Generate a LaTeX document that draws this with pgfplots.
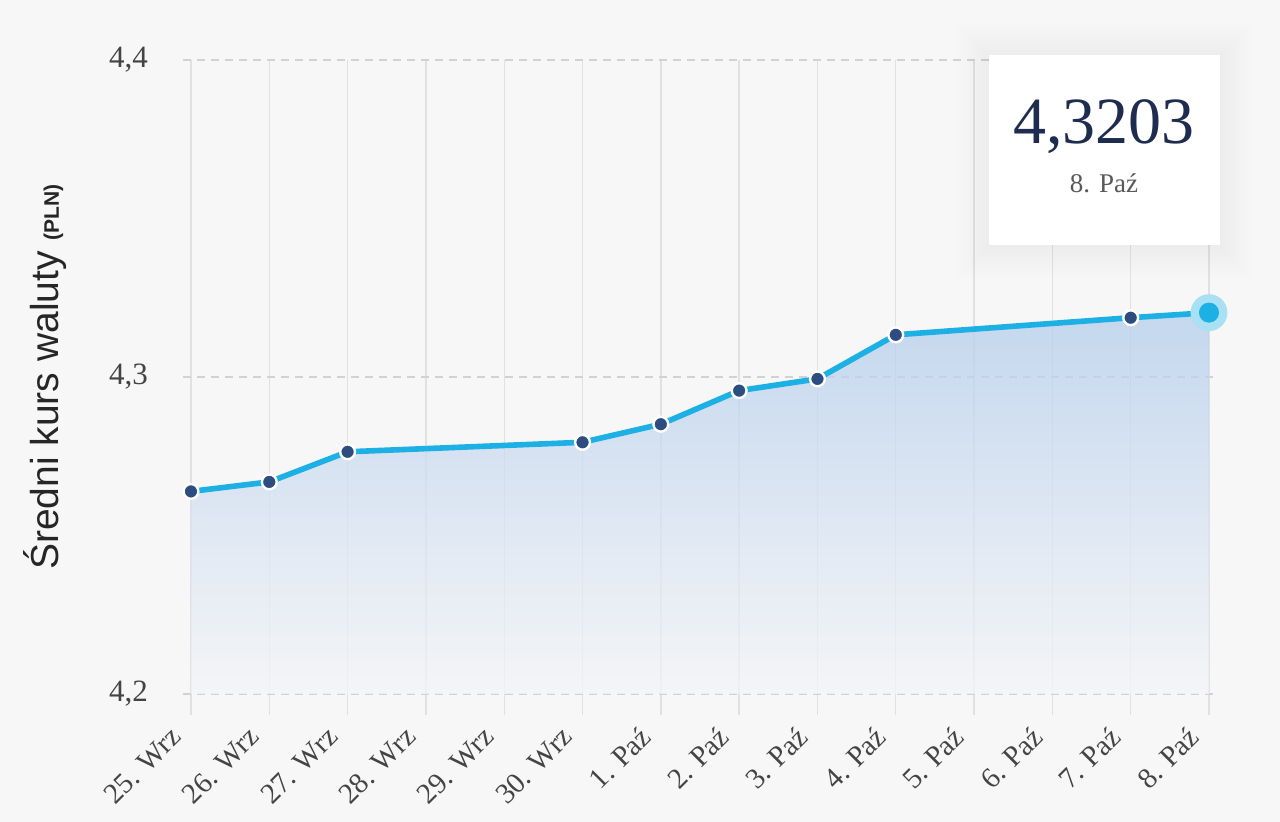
\documentclass[border=0pt]{standalone}
\usepackage{pgfplots}
\pgfplotsset{compat=1.18}
\usepackage{fontspec}
\setmainfont{Liberation Serif}
\newfontfamily\labelfont{Liberation Sans}
\definecolor{bg}{HTML}{F7F7F7}
\definecolor{gridv}{HTML}{E1E1E4}
\definecolor{gridh}{HTML}{D2D2D2}
\definecolor{gridb}{HTML}{C9CDE0}
\definecolor{linec}{HTML}{1CB0E4}
\definecolor{markc}{HTML}{2D4D80}
\definecolor{filltop}{RGB}{180,205,236}
\definecolor{fillbot}{RGB}{244,245,247}
\definecolor{tickc}{HTML}{444444}
\definecolor{navy}{HTML}{1E2D4F}
\definecolor{halo}{RGB}{170,224,244}
\begin{document}
\begin{tikzpicture}[x=1pt,y=1pt]
\fill[bg] (0,0) rectangle (640,411);
\useasboundingbox (0,0) rectangle (640,411);
\begin{axis}[
  at={(91.5pt,64pt)}, anchor=south west,
  scale only axis, width=517.5pt, height=317pt,
  xmin=-0.102, xmax=13.115, ymin=4.2, ymax=4.4,
  clip=false,
  axis line style={draw=none},
  xtick={0,...,13},
  xtick pos=lower, ytick pos=left,
  xticklabels={25. Wrz,26. Wrz,27. Wrz,28. Wrz,29. Wrz,30. Wrz,1. Paź,2. Paź,3. Paź,4. Paź,5. Paź,6. Paź,7. Paź,8. Paź},
  xticklabel style={xshift=-6pt, yshift=-7pt, rotate=45, anchor=east, font=\fontsize{14.5}{16}\selectfont, text=tickc, inner sep=2pt},
  ytick={4.3,4.4},
  yticklabels={4{,}3,4{,}4},
  extra y ticks={4.2},
  extra y tick labels={4{,}2},
  extra y tick style={grid style={gridb, dash pattern=on 4pt off 3pt, line width=0.7pt}},
  yticklabel style={font=\fontsize{15.5}{17}\selectfont, text=tickc, xshift=-3.5pt},
  tick align=outside,
  major tick length=10.5pt,
  xtick style={draw=gridv, line width=0.7pt},
  ytick style={draw=none},
  xmajorgrids, ymajorgrids,
  x grid style={gridv, line width=0.7pt},
  y grid style={gridh, dash pattern=on 4pt off 3pt, line width=0.6pt},
  ylabel={\labelfont\fontsize{19.5}{22}\selectfont Średni kurs waluty {\bfseries\fontsize{10.5}{12}\selectfont (PLN)}},
  ylabel style={at={(axis description cs:-0.133,0.5)}, anchor=center, text=black!85},
]
\addplot[draw=none, top color=filltop, bottom color=fillbot, fill opacity=0.75] coordinates {
  (0,4.2) (0,4.2639) (1,4.2669) (2,4.2764) (5,4.2794) (6,4.2851) (7,4.2957) (8,4.2994) (9,4.3133) (12,4.3187) (13,4.3203) (13,4.2)
} -- cycle;
\addplot[linec, line width=2.8pt, mark=*, mark size=3.7pt,
  mark options={fill=markc, draw=white, line width=1.2pt}] coordinates {
  (0,4.2639) (1,4.2669) (2,4.2764) (5,4.2794) (6,4.2851) (7,4.2957) (8,4.2994) (9,4.3133) (12,4.3187)
};
\addplot[linec, line width=2.8pt] coordinates {(12,4.3187) (13,4.3203)};
\addplot[halo, only marks, mark=*, mark size=9pt, mark options={fill=halo, draw=halo}] coordinates {(13,4.3203)};
\addplot[linec, only marks, mark=*, mark size=4.8pt, mark options={fill=linec, draw=linec}] coordinates {(13,4.3203)};
\end{axis}
\foreach \i in {1,...,10}{
  \fill[black, opacity=0.0035] (494.5-1.6*\i, 288-1.6*\i) rectangle (610+1.6*\i, 383+1.6*\i);
}
\fill[white] (494.5,288.5) rectangle (610,383.5);
\node[text=navy, font=\fontsize{33}{36}\selectfont] at (552,347.5) {4,3203};
\node[text=black!65, font=\fontsize{13.5}{15}\selectfont] at (552,319.5) {8. Paź};
\end{tikzpicture}
\end{document}
